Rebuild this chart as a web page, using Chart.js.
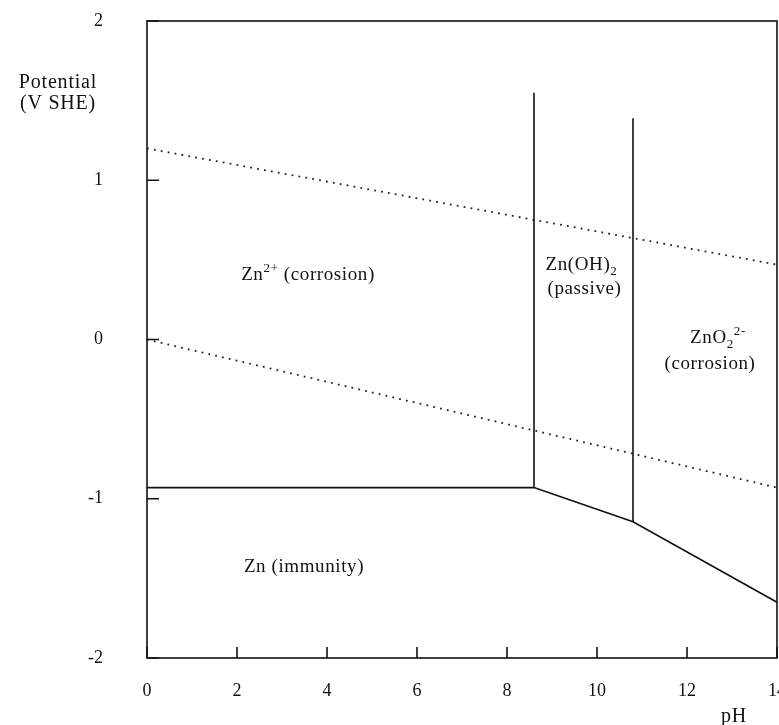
<!DOCTYPE html>
<html>
<head>
<meta charset="utf-8">
<script src="https://cdn.jsdelivr.net/npm/chart.js@4"></script>
<style>
  html, body { margin: 0; padding: 0; background: #fff; }
  #wrap { width: 779px; height: 725px; }
</style>
</head>
<body>
<div id="wrap"><canvas id="myChart"></canvas></div>
<script>
// boundary lines of the zinc Pourbaix diagram (pH, potential V SHE)
const znLinePH = [0, 8.6, 10.8, 14];
const znLineE = [-0.93, -0.93, -1.145, -1.65];
const hydroxideEdgePH = [8.6, 8.6];
const hydroxideEdgeE = [-0.93, 1.55];
const zincateEdgePH = [10.8, 10.8];
const zincateEdgeE = [-1.145, 1.39];
const oxygenPH = [0, 14];
const oxygenE = [1.2, 0.47];
const hydrogenPH = [0, 14];
const hydrogenE = [0, -0.93];
const xTicks = [0, 2, 4, 6, 8, 10, 12, 14];
const yTicks = [-2, -1, 0, 1, 2];

const serif = '"Liberation Serif", "Times New Roman", serif';
const toPoints = (xs, ys) => xs.map((x, i) => ({ x, y: ys[i] }));

const solid = { borderColor: '#111', borderWidth: 1.6, pointRadius: 0, showLine: true, fill: false, tension: 0 };
const dotted = { borderColor: '#222', borderWidth: 1.8, borderDash: [1.8, 5.2], pointRadius: 0, showLine: true, fill: false, tension: 0 };

// draws a label made of pieces: [text, shift] where shift = 0 normal, 1 sup, -1 sub
function drawRich(c, parts, cx, y) {
  const big = '19px ' + serif;
  const small = '13px ' + serif;
  c.letterSpacing = '0.6px';
  let w = 0;
  parts.forEach(([t, s]) => { c.font = s ? small : big; w += c.measureText(t).width; });
  let x = cx - w / 2;
  parts.forEach(([t, s]) => {
    c.font = s ? small : big;
    c.fillText(t, x, y + (s === 1 ? -8 : s === -1 ? 5 : 0));
    x += c.measureText(t).width;
  });
  c.letterSpacing = '0px';
}

const diagramPlugin = {
  id: 'diagram',
  afterDraw(chart) {
    const c = chart.ctx;
    const a = chart.chartArea;
    const xs = chart.scales.x;
    const ys = chart.scales.y;
    c.save();
    c.strokeStyle = '#111';
    c.lineWidth = 1.6;
    c.strokeRect(a.left, a.top, a.right - a.left, a.bottom - a.top);
    // inward ticks
    c.beginPath();
    xTicks.forEach((v) => {
      const px = xs.getPixelForValue(v);
      c.moveTo(px, a.bottom);
      c.lineTo(px, a.bottom - 11);
    });
    yTicks.forEach((v) => {
      const py = ys.getPixelForValue(v);
      c.moveTo(a.left, py);
      c.lineTo(a.left + 12, py);
    });
    c.stroke();
    c.fillStyle = '#111';
    c.textBaseline = 'alphabetic';
    c.textAlign = 'left';
    // passive region label sits midway between the two vertical boundaries
    const midPassive = (xs.getPixelForValue(8.6) + xs.getPixelForValue(10.8)) / 2;
    drawRich(c, [['Zn', 0], ['2+', 1], [' (corrosion)', 0]], 308, 280);
    drawRich(c, [['Zn(OH)', 0], ['2', -1]], midPassive - 2, 270);
    drawRich(c, [['(passive)', 0]], midPassive + 1, 294);
    drawRich(c, [['ZnO', 0], ['2', -1], ['2-', 1]], 718, 343);
    drawRich(c, [['(corrosion)', 0]], 710, 369);
    drawRich(c, [['Zn (immunity)', 0]], 304, 572);
    c.font = '20px ' + serif;
    c.letterSpacing = '0.8px';
    c.textAlign = 'center';
    c.fillText('Potential', 58, 88);
    c.fillText('(V SHE)', 58, 109);
    c.fillText('pH', 734, 722);
    c.restore();
  },
};

const ctx = document.getElementById('myChart').getContext('2d');
const myChart = new Chart(ctx, {
  type: 'scatter',
  data: {
    datasets: [
      { ...solid, data: toPoints(znLinePH, znLineE) },
      { ...solid, data: toPoints(hydroxideEdgePH, hydroxideEdgeE) },
      { ...solid, data: toPoints(zincateEdgePH, zincateEdgeE) },
      { ...dotted, data: toPoints(oxygenPH, oxygenE) },
      { ...dotted, data: toPoints(hydrogenPH, hydrogenE) },
    ],
  },
  options: {
    responsive: true,
    maintainAspectRatio: false,
    animation: false,
    layout: { padding: { top: 21, right: 2, left: 0, bottom: 0 } },
    plugins: { legend: { display: false }, tooltip: { enabled: false } },
    scales: {
      x: {
        type: 'linear',
        min: 0,
        max: 14,
        afterBuildTicks: (s) => { s.ticks = xTicks.map((v) => ({ value: v })); },
        afterFit: (s) => {
          s.height = 67;
          s.paddingLeft = 0; s.paddingRight = 0; s.paddingTop = 0; s.paddingBottom = 0;
        },
        grid: { display: false, drawTicks: false },
        border: { display: false },
        ticks: { color: '#111', font: { family: serif, size: 18 }, padding: 22, maxRotation: 0 },
      },
      y: {
        type: 'linear',
        min: -2,
        max: 2,
        afterBuildTicks: (s) => { s.ticks = yTicks.map((v) => ({ value: v })); },
        afterFit: (s) => {
          s.width = 147;
          s.paddingLeft = 0; s.paddingRight = 0; s.paddingTop = 0; s.paddingBottom = 0;
        },
        grid: { display: false, drawTicks: false },
        border: { display: false },
        ticks: { color: '#111', font: { family: serif, size: 18 }, padding: 44 },
      },
    },
  },
  plugins: [diagramPlugin],
});
</script>
</body>
</html>
